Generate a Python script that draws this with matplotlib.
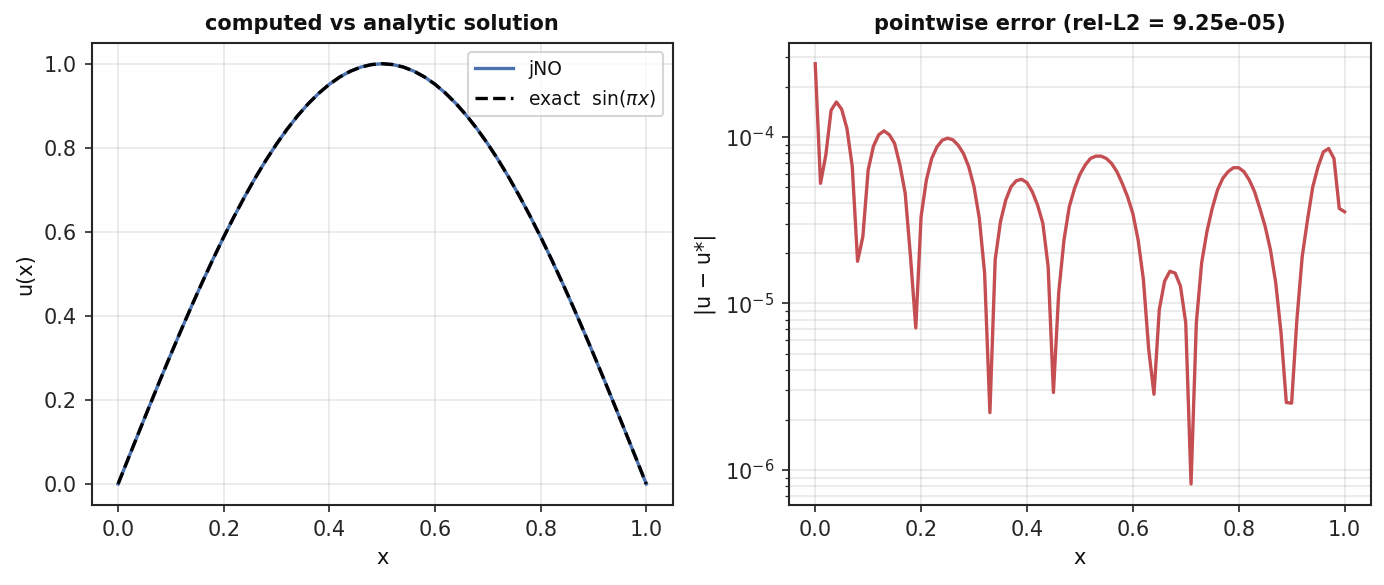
import numpy as np
import matplotlib.pyplot as plt

plt.rcParams['axes.edgecolor'] = '#262626'
plt.rcParams['axes.linewidth'] = 1.0
plt.rcParams['xtick.color'] = '#262626'
plt.rcParams['ytick.color'] = '#262626'
plt.rcParams['text.color'] = '#111111'
plt.rcParams['axes.labelcolor'] = '#111111'

# grid for the solution panel (step 0.02)
x_sol = [i / 50 for i in range(51)]
u_exact = [0.0, 0.0628, 0.1253, 0.1874, 0.2487, 0.3090, 0.3681, 0.4258, 0.4818, 0.5358,
           0.5878, 0.6374, 0.6845, 0.7290, 0.7705, 0.8090, 0.8443, 0.8763, 0.9048, 0.9298,
           0.9511, 0.9686, 0.9823, 0.9921, 0.9980, 1.0000, 0.9980, 0.9921, 0.9823, 0.9686,
           0.9511, 0.9298, 0.9048, 0.8763, 0.8443, 0.8090, 0.7705, 0.7290, 0.6845, 0.6374,
           0.5878, 0.5358, 0.4818, 0.4258, 0.3681, 0.3090, 0.2487, 0.1874, 0.1253, 0.0628,
           0.0]
# computed solution is indistinguishable from the exact one at this scale
u_jno = [0.0, 0.0628, 0.1253, 0.1874, 0.2487, 0.3090, 0.3681, 0.4258, 0.4818, 0.5358,
         0.5878, 0.6374, 0.6845, 0.7290, 0.7705, 0.8090, 0.8443, 0.8763, 0.9048, 0.9298,
         0.9511, 0.9686, 0.9823, 0.9921, 0.9980, 1.0000, 0.9980, 0.9921, 0.9823, 0.9686,
         0.9511, 0.9298, 0.9048, 0.8763, 0.8443, 0.8090, 0.7705, 0.7290, 0.6845, 0.6374,
         0.5878, 0.5358, 0.4818, 0.4258, 0.3681, 0.3090, 0.2487, 0.1874, 0.1253, 0.0628,
         0.0]

# grid for the error panel (step 0.01)
x_err = [i / 100 for i in range(101)]
abs_err = [2.75e-4, 5.26e-5, 7.77e-5, 1.445e-4, 1.62e-4, 1.465e-4, 1.12e-4, 6.62e-5, 1.79e-5, 2.52e-5,
           6.32e-5, 8.8e-5, 1.03e-4, 1.087e-4, 1.03e-4, 9.12e-5, 6.78e-5, 4.58e-5, 1.91e-5, 7.13e-6,
           3.32e-5, 5.51e-5, 7.42e-5, 8.71e-5, 9.55e-5, 9.82e-5, 9.6e-5, 8.92e-5, 7.95e-5, 6.62e-5,
           5.02e-5, 3.25e-5, 1.52e-5, 2.21e-6, 1.83e-5, 3.1e-5, 4.18e-5, 5.02e-5, 5.46e-5, 5.56e-5,
           5.31e-5, 4.69e-5, 3.9e-5, 3.03e-5, 1.67e-5, 2.92e-6, 1.16e-5, 2.41e-5, 3.81e-5, 4.91e-5,
           5.95e-5, 6.77e-5, 7.42e-5, 7.66e-5, 7.66e-5, 7.42e-5, 6.92e-5, 6.18e-5, 5.26e-5, 4.38e-5,
           3.47e-5, 2.41e-5, 1.39e-5, 5.3e-6, 2.85e-6, 9.18e-6, 1.36e-5, 1.56e-5, 1.52e-5, 1.27e-5,
           7.64e-6, 8.24e-7, 7.64e-6, 1.75e-5, 2.7e-5, 3.72e-5, 4.8e-5, 5.64e-5, 6.18e-5, 6.53e-5,
           6.53e-5, 6.18e-5, 5.51e-5, 4.69e-5, 3.72e-5, 2.9e-5, 2.1e-5, 1.33e-5, 6.67e-6, 2.54e-6,
           2.52e-6, 8.0e-6, 1.91e-5, 3.17e-5, 5.02e-5, 6.62e-5, 8.13e-5, 8.51e-5, 7.42e-5, 3.72e-5,
           3.55e-5]
rel_l2 = 9.25e-05

fig = plt.figure(figsize=(1385 / 150, 585 / 150), dpi=150)
ax1 = fig.add_axes([0.0662, 0.1368, 0.4195, 0.7902])
ax2 = fig.add_axes([0.5695, 0.1368, 0.4204, 0.7902])

# left: computed vs exact
ax1.plot(x_sol, u_jno, color='#4c72b0', lw=1.6, label='jNO')
ax1.plot(x_sol, u_exact, color='black', lw=1.6, ls='--', label=r'exact  $\sin(\pi x)$')
ax1.set_title('computed vs analytic solution', fontsize=10, fontweight='bold')
ax1.set_xlabel('x')
ax1.set_ylabel('u(x)')
ax1.grid(True, alpha=0.3)
ax1.legend(loc='upper right', fontsize=9)

# right: pointwise error on log scale
ax2.semilogy(x_err, abs_err, color='#c44e52', lw=1.6)
ax2.set_title(f'pointwise error (rel-L2 = {rel_l2:.2e})', fontsize=10, fontweight='bold')
ax2.set_xlabel('x')
ax2.set_ylabel('|u − u*|')
ax2.grid(True, which='both', alpha=0.3)

fig.savefig('out.png', dpi=150)
